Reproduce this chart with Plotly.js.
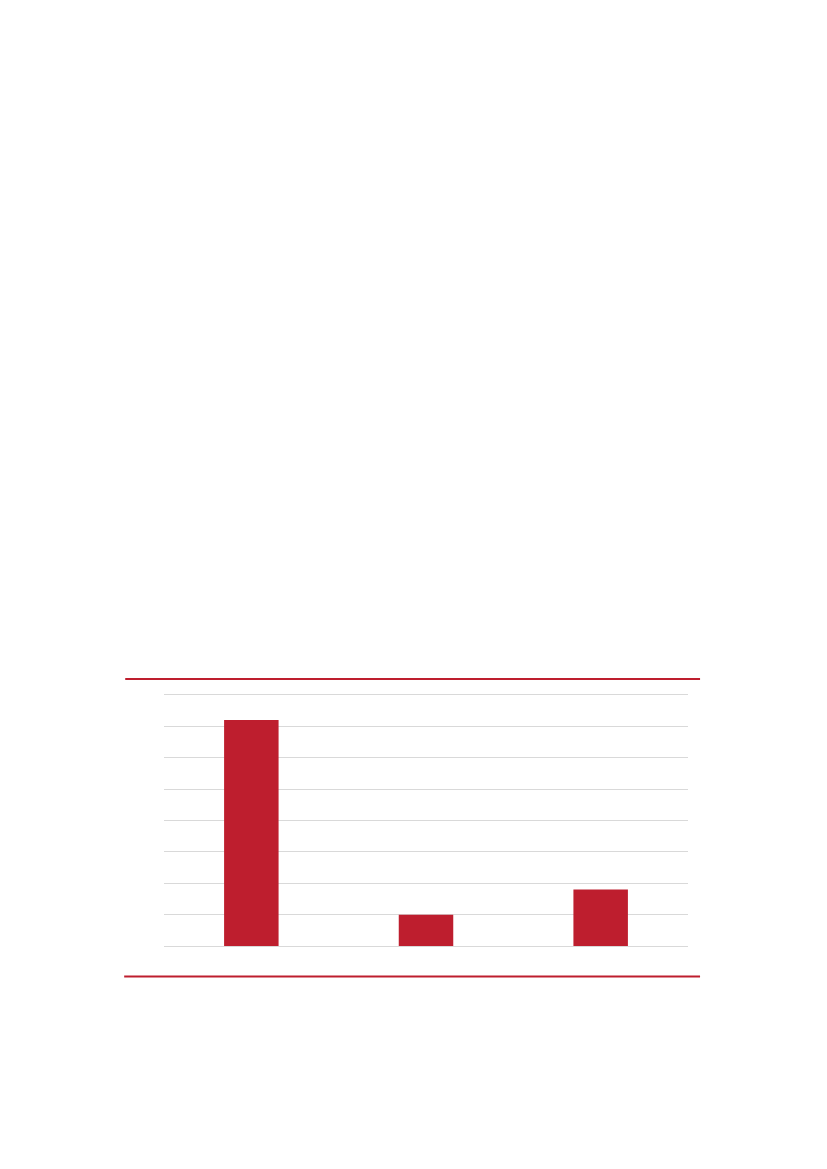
<!DOCTYPE html>
<html>
<head>
<meta charset="utf-8">
<script src="https://cdn.plot.ly/plotly-3.0.1.min.js"></script>
<style>
  html, body { margin: 0; padding: 0; background: #ffffff; }
  #chart { width: 827px; height: 1169px; }
</style>
</head>
<body>
<div id="chart"></div>
<script>
'use strict';

// values (no labels are shown)
const categories = ['1', '2', '3'];
const values = [7.2, 1.0, 1.8];
const yTicks = [0, 1, 2, 3, 4, 5, 6, 7, 8];

const red = '#be1e2e';
const grid = '#d9d9d9';

const trace = {
	x: categories,
	y: values,
	type: 'bar',
	marker: { color: red },
	hoverinfo: 'none'
};

const layout = {
	width: 827,
	height: 1169,
	margin: { l: 164, r: 139, t: 695, b: 223, pad: 0 },
	paper_bgcolor: '#ffffff',
	plot_bgcolor: '#ffffff',
	showlegend: false,
	bargap: 0.688,
	xaxis: {
		type: 'category',
		showticklabels: false,
		showgrid: false,
		zeroline: false,
		// bottom (0) and top (8) grid lines sit on the plot edges
		showline: true,
		mirror: true,
		linecolor: grid,
		linewidth: 1,
		ticks: ''
	},
	yaxis: {
		range: [0, 8],
		tickmode: 'array',
		tickvals: yTicks,
		showticklabels: false,
		showgrid: true,
		gridcolor: grid,
		gridwidth: 1,
		zeroline: false,
		showline: false,
		ticks: ''
	},
	shapes: [
		// red rules above and below the chart
		{ type: 'line', xref: 'paper', yref: 'paper', x0: -0.074, x1: 1.023, y0: 1.064, y1: 1.064,
			line: { color: red, width: 2 } },
		{ type: 'line', xref: 'paper', yref: 'paper', x0: -0.076, x1: 1.023, y0: -0.122, y1: -0.122,
			line: { color: red, width: 2 } }
	]
};

Plotly.newPlot('chart', [trace], layout, { staticPlot: true, displayModeBar: false });
</script>
</body>
</html>
